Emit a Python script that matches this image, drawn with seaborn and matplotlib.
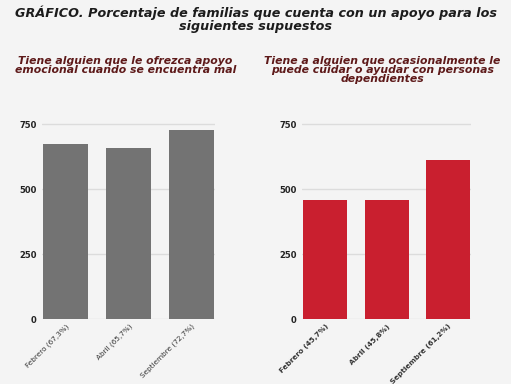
import pandas as pd
import seaborn as sns
import matplotlib.pyplot as plt

meses_apoyo = ["Febrero (67,3%)", "Abril (65,7%)", "Septiembre (72,7%)"]
valores_apoyo = [673, 657, 727]

meses_cuidado = ["Febrero (45,7%)", "Abril (45,8%)", "Septiembre (61,2%)"]
valores_cuidado = [457, 458, 612]

df1 = pd.DataFrame({"mes": meses_apoyo, "valor": valores_apoyo})
df2 = pd.DataFrame({"mes": meses_cuidado, "valor": valores_cuidado})

bg = "#f4f4f4"
sns.set_style("white")
plt.rcParams["font.family"] = ["DejaVu Sans"]

fig = plt.figure(figsize=(5.11, 3.84), dpi=100)
fig.patch.set_facecolor(bg)

ax1 = fig.add_axes([0.0822, 0.169, 0.3386, 0.521])
ax2 = fig.add_axes([0.591, 0.169, 0.331, 0.521])

sns.barplot(data=df1, x="mes", y="valor", color="#737373", width=0.72, ax=ax1,
            saturation=1, edgecolor="none", zorder=3)
sns.barplot(data=df2, x="mes", y="valor", color="#c91f2f", width=0.72, ax=ax2,
            saturation=1, edgecolor="none", zorder=3)

for ax, bold in [(ax1, False), (ax2, True)]:
    ax.set_facecolor(bg)
    ax.set_ylim(0, 770)
    ax.set_yticks([0, 250, 500, 750])
    ax.set_xlim(-0.38, 2.38)
    ax.grid(axis="y", color="#dcdcdc", linewidth=1, zorder=0)
    for s in ax.spines.values():
        s.set_visible(False)
    ax.set_xlabel("")
    ax.set_ylabel("")
    ax.tick_params(axis="y", length=0, pad=4, labelsize=6, labelcolor="#222222")
    ax.tick_params(axis="x", length=0, pad=3, labelsize=5.2, labelcolor="#333333")
    for lab in ax.get_yticklabels():
        lab.set_fontweight("bold")
    for lab in ax.get_xticklabels():
        lab.set_rotation(45)
        lab.set_ha("right")
        lab.set_rotation_mode("anchor")
        if bold:
            lab.set_fontweight("bold")

fig.text(0.5, 0.985, "GRÁFICO. Porcentaje de familias que cuenta con un apoyo para los\nsiguientes supuestos",
         ha="center", va="top", fontsize=9.2, fontweight="bold", style="italic",
         color="#1c1c1c", linespacing=0.95)
fig.text(0.245, 0.855, "Tiene alguien que le ofrezca apoyo\nemocional cuando se encuentra mal",
         ha="center", va="top", fontsize=7.8, fontweight="bold", style="italic",
         color="#5e1a1a", linespacing=0.9)
fig.text(0.748, 0.855, "Tiene a alguien que ocasionalmente le\npuede cuidar o ayudar con personas\ndependientes",
         ha="center", va="top", fontsize=7.8, fontweight="bold", style="italic",
         color="#5e1a1a", linespacing=0.9)

fig.savefig("out.png", dpi=100, facecolor=bg)
